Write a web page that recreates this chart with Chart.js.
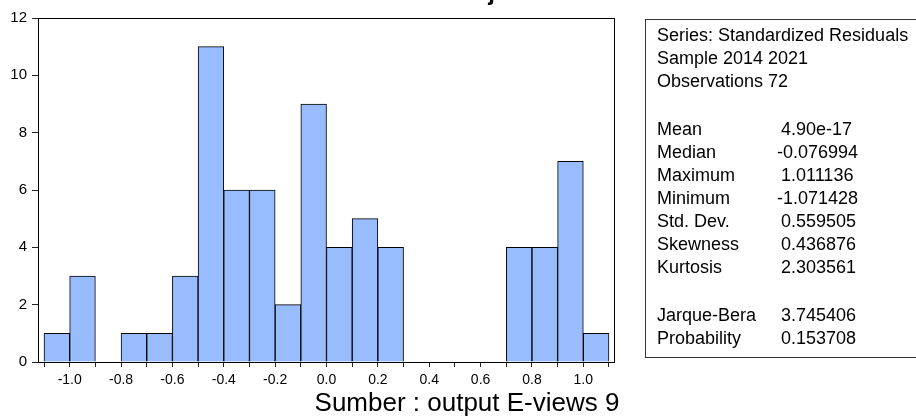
<!DOCTYPE html>
<html>
<head>
<meta charset="utf-8">
<script src="https://cdn.jsdelivr.net/npm/chart.js@4.4.1/dist/chart.umd.min.js"></script>
<style>
  html, body { margin: 0; padding: 0; background: #fff; overflow: hidden; }
</style>
</head>
<body>
<canvas id="myChart" width="916" height="418"></canvas>
<script>
// histogram bins (lower edge) and counts
const binStart = [-1.1, -1.0, -0.9, -0.8, -0.7, -0.6, -0.5, -0.4, -0.3, -0.2, -0.1,
                  0.0, 0.1, 0.2, 0.3, 0.4, 0.5, 0.6, 0.7, 0.8, 0.9, 1.0];
const counts = [1, 3, 0, 1, 1, 3, 11, 6, 6, 2, 9,
                4, 5, 4, 0, 0, 0, 0, 4, 4, 7, 1];
const binWidth = 0.1;
const xTickLabels = ['-1.0', '-0.8', '-0.6', '-0.4', '-0.2', '0.0', '0.2', '0.4', '0.6', '0.8', '1.0'];
const yTicks = [0, 2, 4, 6, 8, 10, 12];

// stats box text
const headerLines = ['Series: Standardized Residuals', 'Sample 2014 2021', 'Observations 72'];
const statNames = ['Mean', 'Median', 'Maximum', 'Minimum', 'Std. Dev.', 'Skewness', 'Kurtosis'];
const statValues = ['4.90e-17', '-0.076994', '1.011136', '-1.071428', '0.559505', '0.436876', '2.303561'];
const testNames = ['Jarque-Bera', 'Probability'];
const testValues = ['3.745406', '0.153708'];

const titleText = 'Hasil Uji Normalitas';
const captionText = 'Sumber : output E-views 9';

const FONT = "'Liberation Sans', Arial, sans-serif";

let ctx = document.getElementById('myChart').getContext('2d');

const barData = binStart.map((b, i) => ({ x: b + binWidth / 2, y: counts[i] }));

const extras = {
    id: 'extras',
    afterDraw(chart) {
        const c = chart.ctx;
        const a = chart.chartArea;
        c.save();
        // plot frame
        c.strokeStyle = '#000';
        c.lineWidth = 1;
        c.strokeRect(Math.round(a.left) + 0.5, Math.round(a.top) + 0.5,
            Math.round(a.right - a.left) - 1, Math.round(a.bottom - a.top));

        // title, cut off at the top like the source
        c.fillStyle = '#000';
        c.font = 'bold 24px ' + FONT;
        c.textBaseline = 'alphabetic';
        c.textAlign = 'left';
        c.fillText(titleText, 407, 0);

        // caption
        c.font = '26px ' + FONT;
        c.textAlign = 'center';
        c.textBaseline = 'middle';
        c.fillText(captionText, 467, 404);

        // stats box
        c.strokeStyle = '#333';
        c.strokeRect(645.5, 19.5, 300, 338);
        c.font = '18px ' + FONT;
        c.textAlign = 'left';
        let y = 36;
        headerLines.forEach(t => { c.fillText(t, 657, y); y += 23; });
        y = 130;
        statNames.forEach((t, i) => {
            c.fillText(t, 657, y);
            const v = statValues[i];
            c.fillText(v, v.startsWith('-') ? 777 : 781, y);
            y += 23;
        });
        y = 316;
        testNames.forEach((t, i) => {
            c.fillText(t, 657, y);
            c.fillText(testValues[i], 781, y);
            y += 23;
        });
        c.restore();
    }
};

new Chart(ctx, {
    type: 'bar',
    data: {
        datasets: [
            {
                label: 'Standardized Residuals',
                data: barData,
                backgroundColor: '#98bcfd',
                borderColor: '#000',
                borderWidth: 1,
                barPercentage: 1,
                categoryPercentage: 1,
            },
        ],
    },
    options: {
        responsive: false,
        animation: false,
        devicePixelRatio: 1,
        layout: { padding: { left: 0, top: 18, right: 301, bottom: 0 } },
        plugins: {
            legend: { display: false },
            tooltip: { enabled: false },
        },
        scales: {
            x: {
                type: 'linear',
                offset: false,
                min: -1.1234,
                max: 1.1234,
                afterBuildTicks: (scale) => {
                    const edges = binStart.concat([binStart[binStart.length - 1] + binWidth]);
                    scale.ticks = edges.map(v => ({ value: v }));
                },
                afterFit: (scale) => { scale.height = 56; },
                grid: { offset: false, drawOnChartArea: false, drawTicks: true, tickLength: 5, color: '#222' },
                border: { display: false },
                ticks: {
                    autoSkip: false,
                    maxRotation: 0,
                    padding: 5,
                    color: '#000',
                    font: { family: FONT, size: 14 },
                    callback: (value) => {
                        const k = Math.round(value * 10);
                        if (k % 2 !== 0 || Math.abs(k) > 10) return '';
                        return xTickLabels[(k + 10) / 2];
                    },
                },
            },
            y: {
                min: 0,
                max: 12,
                afterBuildTicks: (scale) => {
                    scale.ticks = yTicks.map(v => ({ value: v }));
                },
                afterFit: (scale) => { scale.width = 38; },
                grid: { drawOnChartArea: false, drawTicks: true, tickLength: 6, color: '#222' },
                border: { display: false },
                ticks: {
                    padding: 5,
                    color: '#000',
                    font: { family: FONT, size: 15 },
                },
            },
        },
    },
    plugins: [extras],
});
</script>
</body>
</html>
